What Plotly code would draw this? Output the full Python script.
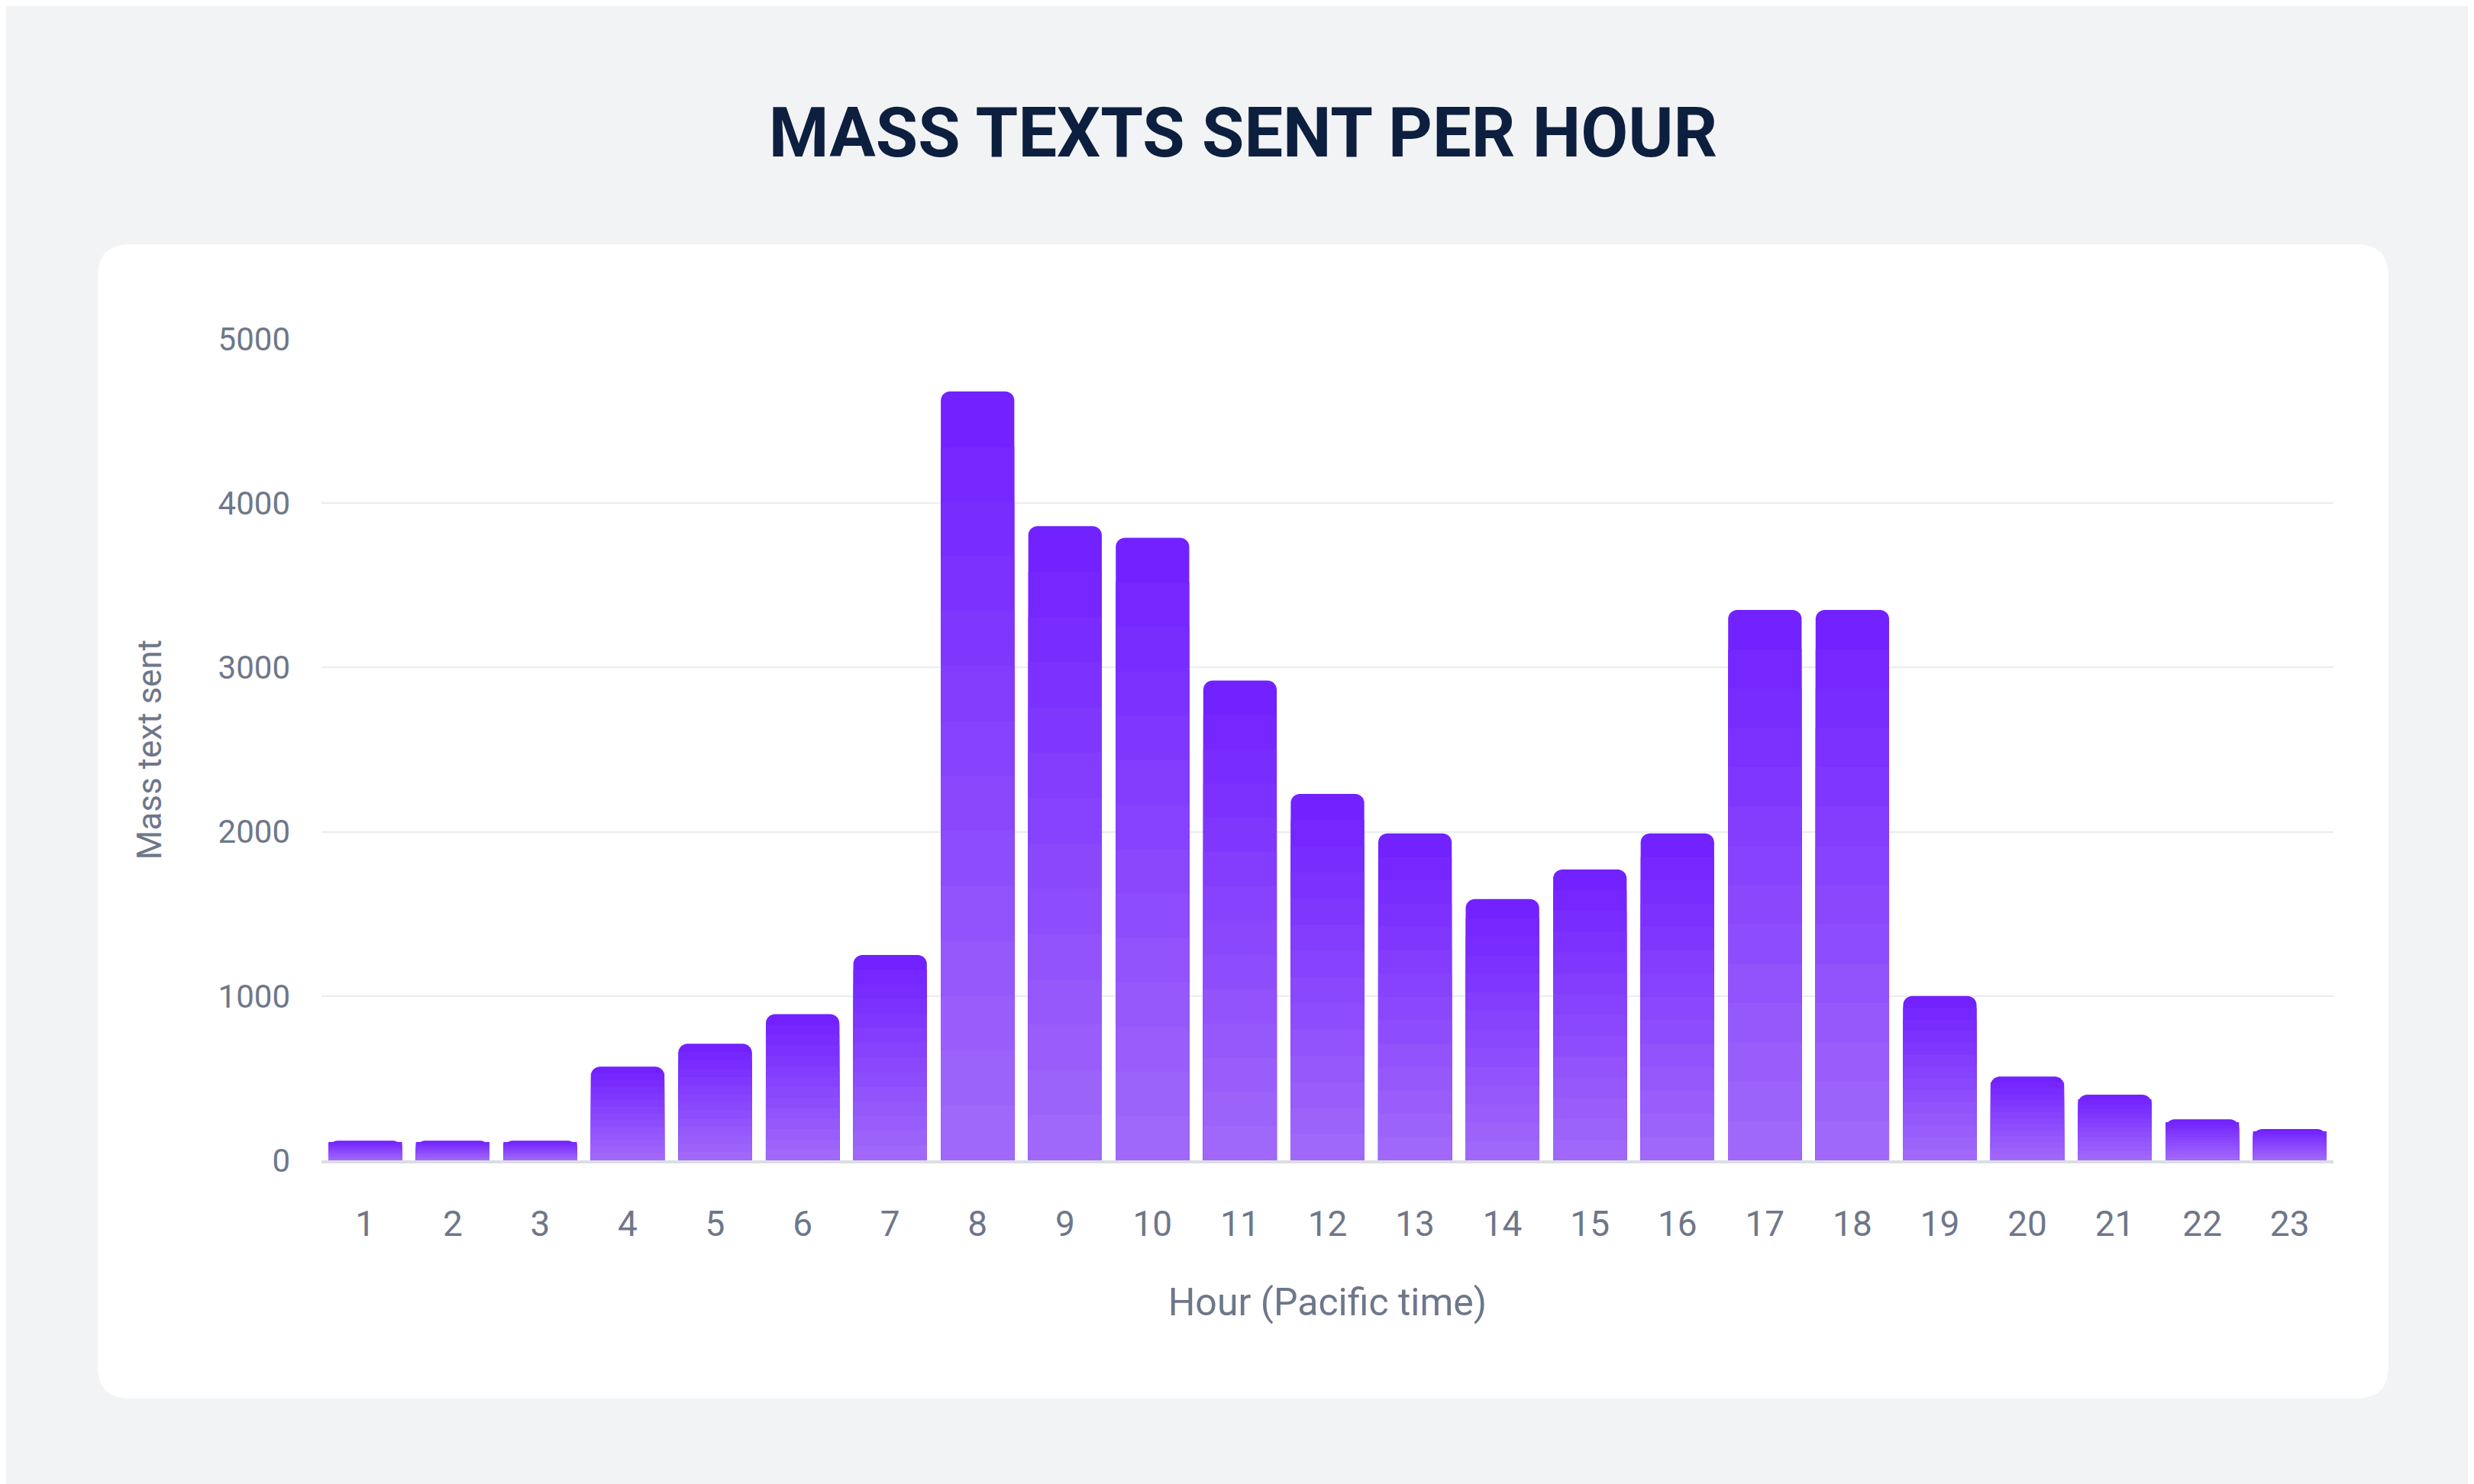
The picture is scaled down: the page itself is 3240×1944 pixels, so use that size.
import plotly.graph_objects as go

hours = [str(h) for h in range(1, 24)]
values = [120, 120, 120, 570, 710, 890, 1250, 4680, 3860, 3790, 2920, 2230,
          1990, 1590, 1770, 1990, 3350, 3350, 1000, 510, 400, 250, 190]
y_ticks = [0, 1000, 2000, 3000, 4000, 5000]

W, H = 3240, 1944
L, R, T, B = 413, 192, 436, 432
pw, ph = W - L - R, H - T - B

top_rgb = (114, 33, 255)
bot_rgb = (160, 104, 250)
N = 14
fig = go.Figure()
for k in range(N):
    f = 1 - k / N
    t = k / (N - 1)
    c = tuple(round(top_rgb[i] + (bot_rgb[i] - top_rgb[i]) * t) for i in range(3))
    fig.add_trace(go.Bar(
        x=hours, y=[v * f for v in values],
        marker=dict(color="rgb(%d,%d,%d)" % c, line=dict(width=0)),
        marker_cornerradius=12 if k == 0 else 0,
        showlegend=False, hoverinfo="skip" if k else None,
    ))

# rounded card
x0, x1 = (120 - L) / pw, (3120 - L) / pw
y0, y1 = -(1824 - (T + ph)) / ph, (T + ph - 312) / ph
rx, ry = 42 / pw, 42 / ph
path = (f"M {x0+rx},{y1} L {x1-rx},{y1} Q {x1},{y1} {x1},{y1-ry} "
        f"L {x1},{y0+ry} Q {x1},{y0} {x1-rx},{y0} L {x0+rx},{y0} "
        f"Q {x0},{y0} {x0},{y0+ry} L {x0},{y1-ry} Q {x0},{y1} {x0+rx},{y1} Z")
fig.add_shape(type="path", path=path, xref="paper", yref="paper",
              fillcolor="white", line=dict(width=0), layer="below")

grey = "#6e778a"
fig.update_layout(
    width=W, height=H,
    margin=dict(l=L, r=R, t=T, b=B),
    paper_bgcolor="#f2f3f5", plot_bgcolor="rgba(0,0,0,0)",
    barmode="overlay", bargap=0.16,
    font=dict(family="Roboto", color=grey),
    title=dict(text="<b>MASS TEXTS SENT PER HOUR</b>", x=0.5, xanchor="center",
               y=1 - 165 / H, yanchor="middle",
               font=dict(size=90, color="#0d1f3f", family="Roboto")),
    xaxis=dict(tickfont=dict(size=46, color=grey), ticklabelstandoff=40,
               title=dict(text="Hour (Pacific time)", font=dict(size=50, color=grey), standoff=60),
               showgrid=False, showline=True, linecolor="#dcdde2", linewidth=4),
    yaxis=dict(range=[0, 5000], tickvals=y_ticks, tickfont=dict(size=42, color=grey),
               ticklabelstandoff=40, gridcolor="#ebecef", gridwidth=2, zeroline=False,
               title=dict(text="Mass text sent", font=dict(size=44, color=grey), standoff=60)),
)
fig.write_html("out.html")
